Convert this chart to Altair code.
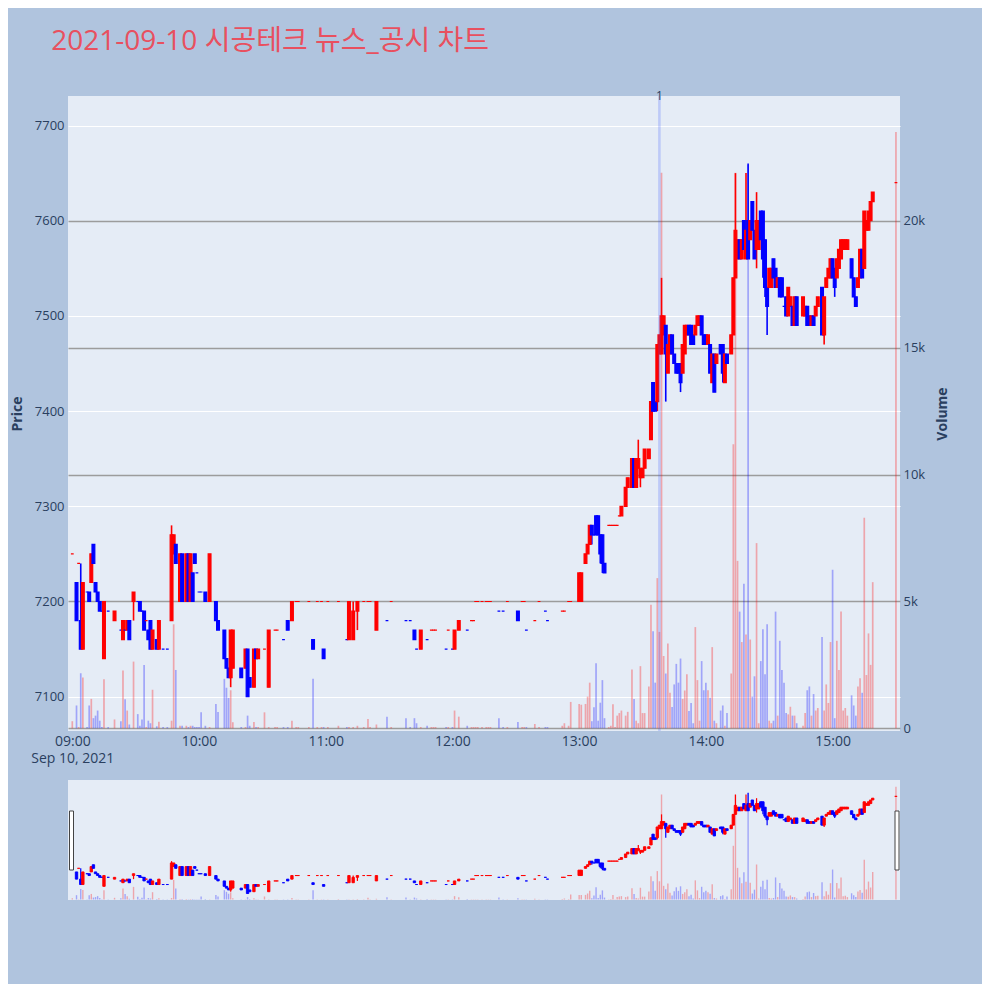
import altair as alt
import pandas as pd

# ---------------- data (minutes after 09:00, OHLC in KRW, volume in shares) ----------------
minute = [0, 2, 3, 4, 5, 7, 8, 9, 10, 11, 12, 13, 14, 15, 17, 20, 23, 24, 25, 26, 27, 29, 31, 32, 33, 34, 35, 36, 37, 38,
          40, 41, 43, 45, 47, 48, 49, 51, 52, 54, 55, 56, 57, 58, 59, 60, 61, 63, 65, 68, 69, 72, 73, 74, 75, 76, 80, 82, 83, 84,
          86, 87, 88, 91, 93, 96, 97, 100, 102, 104, 106, 107, 112, 114, 116, 118, 119, 121, 126, 130, 131, 133, 135, 138, 140, 141, 144, 149, 151, 158,
          160, 162, 163, 165, 168, 170, 171, 172, 177, 178, 180, 181, 183, 187, 189, 190, 191, 192, 194, 196, 197, 198, 202, 204, 206, 211, 213, 214, 215, 219,
          221, 224, 225, 232, 233, 235, 236, 240, 241, 243, 244, 245, 246, 247, 248, 249, 250, 251, 252, 254, 255, 256, 257, 258, 259, 260, 262, 263, 265, 266,
          267, 268, 269, 270, 271, 273, 274, 275, 276, 277, 278, 279, 280, 281, 282, 283, 284, 285, 286, 287, 288, 289, 290, 291, 292, 293, 294, 295, 296, 297,
          298, 299, 300, 301, 302, 303, 304, 305, 307, 308, 309, 310, 312, 313, 314, 315, 316, 317, 318, 319, 320, 321, 322, 323, 324, 325, 326, 327, 328, 329,
          330, 331, 332, 333, 334, 335, 336, 337, 338, 339, 340, 341, 342, 343, 346, 347, 348, 349, 350, 351, 352, 353, 355, 356, 357, 358, 359, 360, 361, 362,
          363, 364, 365, 366, 367, 369, 370, 371, 372, 373, 374, 375, 376, 377, 378, 379, 390]

open_ = [7250, 7220, 7240, 7180, 7150, 7210, 7210, 7220, 7260, 7220, 7210, 7200, 7190, 7140, 7190, 7180, 7170, 7160, 7170, 7170, 7180, 7200, 7200, 7200, 7190, 7190, 7180, 7170, 7180, 7150,
         7160, 7150, 7150, 7150, 7180, 7250, 7260, 7200, 7250, 7200, 7250, 7200, 7230, 7250, 7230, 7210, 7210, 7210, 7200, 7200, 7180, 7170, 7140, 7130, 7120, 7130, 7130, 7130, 7150, 7120,
         7110, 7150, 7140, 7150, 7110, 7170, 7170, 7160, 7180, 7180, 7200, 7200, 7200, 7160, 7200, 7200, 7150, 7200, 7200, 7160, 7160, 7160, 7190, 7200, 7200, 7200, 7170, 7180, 7200, 7180,
         7180, 7170, 7150, 7150, 7160, 7170, 7170, 7170, 7150, 7170, 7150, 7150, 7170, 7170, 7180, 7180, 7200, 7200, 7200, 7200, 7200, 7200, 7190, 7190, 7200, 7190, 7200, 7200, 7170, 7180,
         7200, 7190, 7180, 7190, 7190, 7200, 7200, 7200, 7200, 7240, 7250, 7260, 7280, 7270, 7290, 7290, 7270, 7270, 7240, 7280, 7280, 7280, 7280, 7280, 7290, 7290, 7300, 7320, 7320, 7350,
         7320, 7340, 7330, 7330, 7340, 7350, 7370, 7430, 7410, 7410, 7460, 7460, 7480, 7490, 7440, 7460, 7480, 7460, 7450, 7450, 7450, 7440, 7460, 7480, 7490, 7490, 7480, 7480, 7490, 7490,
         7500, 7480, 7480, 7470, 7470, 7430, 7460, 7450, 7470, 7470, 7430, 7460, 7460, 7480, 7540, 7560, 7580, 7560, 7600, 7560, 7600, 7580, 7620, 7590, 7570, 7570, 7610, 7610, 7580, 7530,
         7530, 7530, 7560, 7550, 7530, 7540, 7540, 7510, 7520, 7500, 7510, 7510, 7490, 7520, 7500, 7500, 7510, 7500, 7490, 7500, 7500, 7510, 7530, 7480, 7530, 7540, 7540, 7560, 7550, 7540,
         7550, 7560, 7570, 7570, 7570, 7560, 7540, 7520, 7530, 7540, 7570, 7550, 7590, 7590, 7600, 7620, 7640]

high = [7250, 7220, 7240, 7240, 7220, 7210, 7210, 7250, 7260, 7220, 7210, 7200, 7190, 7200, 7190, 7190, 7170, 7180, 7170, 7180, 7180, 7210, 7200, 7200, 7190, 7190, 7180, 7170, 7180, 7170,
        7160, 7180, 7150, 7150, 7280, 7270, 7260, 7250, 7250, 7250, 7250, 7250, 7230, 7250, 7230, 7210, 7210, 7210, 7250, 7200, 7180, 7170, 7140, 7130, 7170, 7170, 7130, 7150, 7150, 7120,
        7150, 7150, 7150, 7150, 7170, 7170, 7170, 7160, 7180, 7200, 7200, 7200, 7200, 7160, 7200, 7200, 7150, 7200, 7200, 7160, 7200, 7200, 7200, 7200, 7200, 7200, 7200, 7180, 7200, 7180,
        7180, 7170, 7150, 7170, 7160, 7170, 7170, 7170, 7150, 7170, 7150, 7170, 7180, 7170, 7180, 7180, 7200, 7200, 7200, 7200, 7200, 7200, 7190, 7190, 7200, 7190, 7200, 7200, 7170, 7180,
        7200, 7190, 7180, 7190, 7190, 7200, 7200, 7230, 7230, 7250, 7260, 7280, 7280, 7270, 7290, 7290, 7270, 7270, 7240, 7280, 7280, 7280, 7280, 7280, 7290, 7300, 7320, 7330, 7350, 7350,
        7350, 7370, 7340, 7340, 7360, 7360, 7410, 7430, 7410, 7470, 7480, 7540, 7500, 7490, 7470, 7480, 7480, 7460, 7450, 7450, 7450, 7470, 7490, 7490, 7490, 7490, 7480, 7490, 7500, 7500,
        7500, 7480, 7480, 7480, 7470, 7460, 7460, 7460, 7470, 7470, 7460, 7460, 7480, 7540, 7650, 7580, 7580, 7580, 7600, 7650, 7660, 7600, 7620, 7590, 7630, 7600, 7610, 7610, 7580, 7530,
        7550, 7550, 7560, 7550, 7540, 7540, 7540, 7510, 7520, 7530, 7520, 7510, 7520, 7520, 7520, 7510, 7510, 7500, 7500, 7500, 7510, 7520, 7530, 7520, 7540, 7550, 7560, 7560, 7550, 7560,
        7570, 7580, 7580, 7580, 7580, 7560, 7540, 7520, 7540, 7570, 7570, 7610, 7600, 7610, 7620, 7630, 7640]

low = [7250, 7180, 7240, 7150, 7150, 7210, 7200, 7220, 7240, 7210, 7200, 7190, 7190, 7140, 7190, 7180, 7170, 7160, 7170, 7170, 7160, 7180, 7200, 7190, 7190, 7170, 7180, 7160, 7150, 7150,
       7150, 7150, 7150, 7150, 7180, 7250, 7240, 7200, 7200, 7200, 7200, 7200, 7200, 7240, 7230, 7210, 7210, 7200, 7200, 7180, 7170, 7140, 7130, 7120, 7110, 7130, 7120, 7130, 7100, 7110,
       7110, 7140, 7140, 7150, 7110, 7170, 7170, 7160, 7170, 7180, 7200, 7200, 7200, 7150, 7200, 7200, 7140, 7200, 7200, 7160, 7160, 7160, 7170, 7200, 7200, 7200, 7170, 7180, 7200, 7180,
       7180, 7160, 7150, 7150, 7160, 7170, 7170, 7170, 7150, 7170, 7150, 7150, 7170, 7170, 7180, 7180, 7200, 7200, 7200, 7200, 7200, 7200, 7190, 7190, 7200, 7180, 7200, 7200, 7170, 7180,
       7200, 7190, 7180, 7190, 7190, 7200, 7200, 7200, 7200, 7240, 7250, 7260, 7260, 7270, 7270, 7270, 7240, 7230, 7230, 7280, 7280, 7280, 7280, 7280, 7290, 7290, 7300, 7320, 7320, 7320,
       7320, 7340, 7320, 7330, 7340, 7350, 7370, 7400, 7400, 7400, 7460, 7460, 7480, 7410, 7440, 7460, 7460, 7450, 7440, 7440, 7420, 7440, 7460, 7480, 7480, 7470, 7470, 7480, 7490, 7490,
       7480, 7470, 7470, 7470, 7440, 7430, 7420, 7450, 7460, 7430, 7430, 7450, 7460, 7480, 7540, 7560, 7560, 7560, 7570, 7560, 7560, 7580, 7590, 7560, 7550, 7570, 7580, 7540, 7520, 7480,
       7530, 7530, 7540, 7530, 7530, 7520, 7520, 7510, 7500, 7500, 7510, 7490, 7490, 7490, 7500, 7500, 7490, 7490, 7490, 7490, 7500, 7510, 7480, 7470, 7530, 7540, 7540, 7540, 7520, 7540,
       7550, 7560, 7570, 7570, 7570, 7540, 7520, 7510, 7530, 7540, 7540, 7550, 7590, 7590, 7600, 7620, 7640]

close = [7250, 7180, 7240, 7150, 7220, 7210, 7200, 7250, 7240, 7210, 7200, 7190, 7190, 7200, 7190, 7190, 7170, 7180, 7170, 7180, 7160, 7210, 7200, 7190, 7190, 7170, 7180, 7160, 7150, 7170,
         7150, 7180, 7150, 7150, 7270, 7270, 7240, 7250, 7200, 7250, 7200, 7250, 7200, 7240, 7230, 7210, 7210, 7200, 7250, 7180, 7170, 7140, 7130, 7120, 7170, 7170, 7120, 7150, 7100, 7110,
         7150, 7140, 7150, 7150, 7170, 7170, 7170, 7160, 7170, 7200, 7200, 7200, 7200, 7150, 7200, 7200, 7140, 7200, 7200, 7160, 7200, 7190, 7200, 7200, 7200, 7200, 7200, 7180, 7200, 7180,
         7180, 7160, 7150, 7170, 7160, 7170, 7170, 7170, 7150, 7170, 7150, 7170, 7180, 7170, 7180, 7180, 7200, 7200, 7200, 7200, 7200, 7200, 7190, 7190, 7200, 7180, 7200, 7200, 7170, 7180,
         7200, 7190, 7180, 7190, 7190, 7200, 7200, 7230, 7230, 7250, 7260, 7280, 7270, 7270, 7270, 7270, 7250, 7240, 7230, 7280, 7280, 7280, 7280, 7280, 7290, 7300, 7320, 7330, 7350, 7320,
         7350, 7350, 7340, 7340, 7360, 7360, 7410, 7400, 7400, 7470, 7480, 7500, 7500, 7460, 7470, 7480, 7460, 7450, 7440, 7440, 7430, 7470, 7490, 7490, 7480, 7470, 7470, 7490, 7500, 7500,
         7480, 7470, 7470, 7480, 7440, 7460, 7420, 7460, 7460, 7440, 7460, 7450, 7480, 7540, 7590, 7580, 7560, 7580, 7570, 7590, 7560, 7600, 7590, 7560, 7600, 7600, 7580, 7560, 7530, 7510,
         7550, 7550, 7540, 7530, 7540, 7520, 7520, 7510, 7500, 7530, 7520, 7490, 7520, 7490, 7520, 7510, 7490, 7490, 7500, 7490, 7510, 7520, 7480, 7520, 7540, 7550, 7560, 7540, 7530, 7560,
         7570, 7580, 7580, 7580, 7580, 7540, 7520, 7510, 7540, 7570, 7540, 7610, 7600, 7610, 7620, 7630, 7640]

volume = [280, 900, 50, 2170, 2000, 50, 900, 1160, 400, 500, 700, 300, 50, 1930, 50, 350, 280, 2280, 1150, 700, 150, 2630, 560, 100, 350, 2500, 50, 300, 200, 1520,
          80, 260, 50, 50, 300, 4100, 2300, 100, 100, 100, 50, 100, 100, 50, 50, 50, 630, 100, 50, 960, 640, 1950, 1600, 1200, 1500, 240, 50, 50, 500, 100,
          250, 50, 50, 630, 50, 50, 50, 50, 50, 300, 50, 50, 50, 1950, 50, 50, 50, 50, 100, 50, 50, 50, 100, 50, 370, 50, 150, 460, 50, 400,
          50, 400, 200, 50, 100, 50, 50, 50, 50, 50, 50, 700, 460, 100, 50, 50, 50, 50, 50, 50, 50, 50, 400, 50, 50, 250, 50, 50, 50, 170,
          50, 50, 50, 100, 200, 100, 1040, 960, 930, 960, 1250, 1800, 280, 830, 2560, 300, 1010, 1900, 400, 50, 100, 950, 50, 500, 600, 700, 500, 650, 2320, 1160,
          300, 200, 2450, 600, 600, 1650, 4870, 3830, 1800, 5920, 3800, 21900, 2850, 2160, 3340, 1400, 840, 1730, 2540, 1800, 2750, 1160, 1490, 2130, 680, 1000, 200, 3990, 1900, 300,
          2650, 1500, 1800, 1500, 1200, 3200, 300, 200, 700, 900, 100, 600, 2160, 11200, 21900, 6600, 4600, 3400, 5700, 3700, 22200, 3500, 1250, 2050, 7300, 200, 2650, 3900, 2130, 4100,
          300, 200, 300, 4600, 500, 3450, 2300, 1800, 600, 550, 850, 500, 500, 200, 100, 600, 1500, 1650, 500, 1350, 700, 800, 3600, 700, 1730, 1000, 3400, 6250, 400, 3450,
          2300, 4600, 700, 800, 500, 1300, 900, 500, 1650, 1970, 1400, 8300, 2100, 3740, 2500, 5760, 23500]

price_ticks = [7100, 7200, 7300, 7400, 7500, 7600, 7700]
volume_ticks = [0, 5000, 10000, 15000, 20000]
annotation_time = ["2021-09-10T13:38:00"]
annotation_label = ["1"]
title_text = "2021-09-10 시공테크 뉴스_공시 차트"

# ---------------- table ----------------
base = pd.Timestamp("2021-09-10 09:00:00")
df = pd.DataFrame({"minute": minute, "open": open_, "high": high, "low": low,
                   "close": close, "volume": volume})
df["time"] = [(base + pd.Timedelta(minutes=int(m))).strftime("%Y-%m-%dT%H:%M:%S") for m in df["minute"]]

dirs = []
prev_c, prev_d = None, "up"
for o, c in zip(df["open"], df["close"]):
    if c > o:
        d = "up"
    elif c < o:
        d = "down"
    elif prev_c is None or c == prev_c:
        d = prev_d
    else:
        d = "up" if c > prev_c else "down"
    dirs.append(d)
    prev_c, prev_d = c, d
df["dir"] = dirs

ann = pd.DataFrame({"time": annotation_time, "label": annotation_label})

# ---------------- styles ----------------
UP, DOWN = "#FF0000", "#0000FF"
TXT = "#2a3f5f"
FONT = "Open Sans"
PRICE_DOMAIN = [7064, 7731]
VOL_DOMAIN = [-106, 24923]


def dt(h, m, s=0):
    return alt.DateTime(year=2021, month=9, date=10, hours=h, minutes=m, seconds=s)


X_DOMAIN = [dt(8, 57, 58), dt(15, 31, 55)]
hour_values = [dt(h, 0) for h in range(9, 16)]

color_scale = alt.Scale(domain=["up", "down"], range=[UP, DOWN])
col = alt.Color("dir:N", scale=color_scale, legend=None)
stk = alt.Stroke("dir:N", scale=color_scale, legend=None)

x_scale = alt.Scale(domain=X_DOMAIN, padding=0, nice=False)
x_axis = alt.Axis(values=hour_values, grid=False, domain=False, ticks=False, labelPadding=3,
                  labelFontSize=14, labelColor=TXT, labelFont=FONT, labelLineHeight=17,
                  labelFlush=False, labelOverlap=False, title=None,
                  labelExpr="hours(datum.value) == 9 ? [timeFormat(datum.value, '%H:%M'), 'Sep 10, 2021'] : timeFormat(datum.value, '%H:%M')")
x_main = alt.X("time:T", scale=x_scale, axis=x_axis)
x_plain = alt.X("time:T", scale=x_scale, axis=None)

price_scale = alt.Scale(domain=PRICE_DOMAIN, nice=False, zero=False)
vol_scale = alt.Scale(domain=VOL_DOMAIN, nice=False, zero=False)

price_axis = alt.Axis(orient="left", values=price_ticks, format="d", grid=True, gridColor="#FFFFFF",
                      gridWidth=1,
                      gridOpacity={"condition": {"test": "datum.value == 7200 || datum.value == 7600",
                                                 "value": 0}, "value": 1},
                      domain=False, ticks=False, labelPadding=4, labelFontSize=13,
                      labelColor=TXT, labelFont=FONT, title="Price", titleFontSize=14,
                      titleColor=TXT, titleFont=FONT, titleFontWeight="bold", titlePadding=10)
vol_axis = alt.Axis(orient="right", values=volume_ticks, grid=True,
                    labelExpr="datum.value == 0 ? '0' : format(datum.value / 1000, 'd') + 'k'",
                    gridColor="#9C9C9C", gridWidth=1.3, domain=False, ticks=False,
                    labelPadding=3, labelFontSize=13, labelColor=TXT, labelFont=FONT,
                    title="Volume", titleFontSize=14, titleColor=TXT, titleFont=FONT,
                    titleFontWeight="bold", titlePadding=25, titleAngle=270)

# ---------------- main panel ----------------
vol_layer = alt.Chart(df).mark_bar(size=1.7, opacity=0.3).encode(
    x=x_main,
    y=alt.Y("volume:Q", scale=vol_scale, axis=vol_axis),
    y2=alt.datum(0),
    color=col,
)

wick = alt.Chart(df).mark_rule(strokeWidth=1.6).encode(
    x=x_main,
    y=alt.Y("low:Q", scale=price_scale, axis=price_axis),
    y2="high:Q",
    color=col,
)
body = alt.Chart(df).mark_bar(size=2.8, strokeWidth=1.2).encode(
    x=x_main,
    y=alt.Y("open:Q", scale=price_scale, axis=price_axis),
    y2="close:Q",
    color=col,
    stroke=stk,
)
vline = alt.Chart(ann).mark_rule(color="#3050FF", opacity=0.22, strokeWidth=2.6).encode(
    x=alt.X("time:T", scale=x_scale, axis=x_axis))
vtext = alt.Chart(ann).mark_text(fontSize=12, color=TXT, font=FONT, baseline="middle").encode(
    x=alt.X("time:T", scale=x_scale, axis=x_axis),
    y=alt.Y("y:Q", scale=price_scale, axis=price_axis),
    text="label:N").transform_calculate(y=str(PRICE_DOMAIN[1]))

price_layer = alt.layer(wick, body, vline, vtext)
main = alt.layer(vol_layer, price_layer).resolve_scale(y="independent").properties(width=832, height=635)

# ---------------- range slider panel ----------------
s_vol = alt.Chart(df).mark_bar(size=1.4, opacity=0.3).encode(
    x=x_plain, y=alt.Y("volume:Q", scale=vol_scale, axis=None), y2=alt.datum(0), color=col)
s_wick = alt.Chart(df).mark_rule(strokeWidth=1.2).encode(
    x=x_plain, y=alt.Y("low:Q", scale=price_scale, axis=None), y2="high:Q", color=col)
s_body = alt.Chart(df).mark_bar(size=2.4, strokeWidth=0.9).encode(
    x=x_plain, y=alt.Y("open:Q", scale=price_scale, axis=None), y2="close:Q", color=col, stroke=stk)
h_left = alt.Chart(ann).mark_rect(fill="#FFFFFF", stroke="#444444", strokeWidth=1,
                                  xOffset=1.5, x2Offset=5.5).encode(
    x=alt.datum(X_DOMAIN[0]), x2=alt.datum(X_DOMAIN[0]), y=alt.value(31), y2=alt.value(90))
h_right = alt.Chart(ann).mark_rect(fill="#FFFFFF", stroke="#444444", strokeWidth=1,
                                   xOffset=-5, x2Offset=-1).encode(
    x=alt.datum(X_DOMAIN[1]), x2=alt.datum(X_DOMAIN[1]), y=alt.value(31), y2=alt.value(90))

slider_price = alt.layer(s_wick, s_body)
slider = alt.layer(s_vol, slider_price, h_left, h_right).resolve_scale(y="independent").properties(
    width=832, height=120)

chart = alt.vconcat(main, slider, spacing=15).resolve_scale(x="shared").properties(
    title=alt.TitleParams(title_text, anchor="start", fontSize=28, font="Open Sans, Noto Sans CJK KR",
                          color="#E8505F", fontWeight="normal", offset=34, dx=41),
    background="#B0C4DE",
    padding={"left": 2, "top": 20, "right": 32, "bottom": 84},
).configure_view(fill="#E5ECF6", stroke=None)

chart.save("out.html", embed_options={"renderer": "svg", "actions": False})
